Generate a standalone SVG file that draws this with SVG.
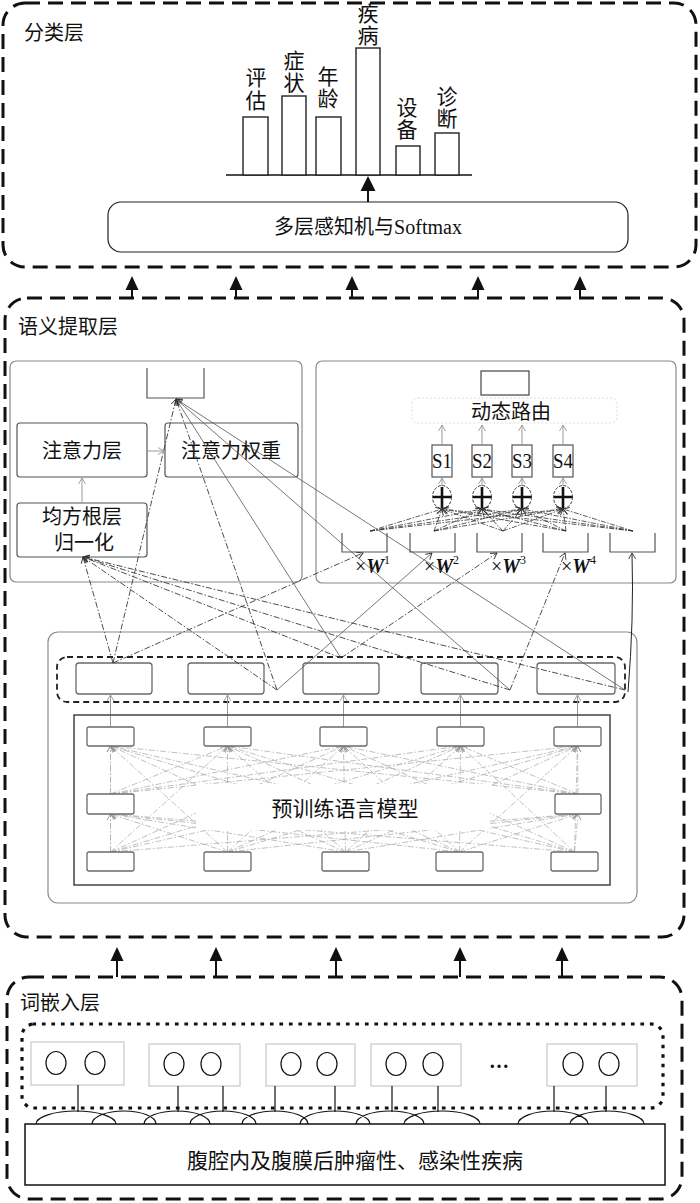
<svg xmlns="http://www.w3.org/2000/svg" width="700" height="1203" viewBox="0 0 700 1203">
<defs>
<marker id="ah" markerUnits="userSpaceOnUse" markerWidth="9" markerHeight="9" refX="7" refY="4.5" orient="auto"><path d="M1,1 L7,4.5 L1,8" fill="none" stroke="#333" stroke-width="0.9"/></marker>
<marker id="ahl" markerUnits="userSpaceOnUse" markerWidth="9" markerHeight="9" refX="7" refY="4.5" orient="auto"><path d="M1,1 L7,4.5 L1,8" fill="none" stroke="#999" stroke-width="0.9"/></marker>
</defs>
<style>
.layer{fill:none;stroke:#111;stroke-width:3;stroke-dasharray:15 8}
.t{font-family:"Liberation Serif","Noto Sans CJK SC",serif;fill:#111}
.cn{font-size:20px}
.mid{text-anchor:middle}
.bar{fill:#fff;stroke:#222;stroke-width:1.4}
.panel{fill:none;stroke:#8a8a8a;stroke-width:1.2}
.box{fill:#fff;stroke:#555;stroke-width:1.2}
.gbox{fill:#fff;stroke:#6a6a6a;stroke-width:1.3}
.obox{fill:none;stroke:#555;stroke-width:1.2}
.arr{fill:#111}
.shaft{stroke:#111;stroke-width:2}
.cl{fill:none;stroke:#3a3a3a;stroke-width:0.9;stroke-dasharray:6 2 1.5 2;marker-end:url(#ah)}
.cs{fill:none;stroke:#555;stroke-width:0.8;marker-end:url(#ah)}
.pl{fill:none;stroke:#b0b0b0;stroke-width:0.8;stroke-dasharray:6 2 1.5 2;marker-end:url(#ahl)}
.ga{fill:none;stroke:#999;stroke-width:1;marker-end:url(#ahl)}
.fan{fill:none;stroke:#333;stroke-width:0.8;stroke-dasharray:5 1.5 1.5 1.5;marker-end:url(#ah)}
.tok{fill:#fff;stroke:#c8c8c8;stroke-width:1.2}
.circ{fill:none;stroke:#111;stroke-width:1.2}
.thin{stroke:#111;stroke-width:1.2;fill:none}
.wl{font-size:20px}
.sl{font-size:21px}
</style>
<rect width="700" height="1203" fill="#fff"/>

<!-- Classification layer -->
<g id="classification-layer">
<rect class="layer" x="3" y="3" width="693" height="264" rx="22"/>
<text class="t cn" x="24" y="40">分类层</text>
</g>
<g id="bar-chart">
<line x1="226" y1="175" x2="472" y2="175" stroke="#111" stroke-width="1.6"/>
<rect class="bar" x="243" y="117" width="25" height="58"/>
<rect class="bar" x="282" y="96" width="24" height="79"/>
<rect class="bar" x="316" y="117" width="25" height="58"/>
<rect class="bar" x="356" y="48" width="24" height="127"/>
<rect class="bar" x="396" y="146" width="24" height="29"/>
<rect class="bar" x="435" y="133" width="24" height="42"/>
<g class="t mid" font-size="21">
<text x="256" y="85">评</text><text x="256" y="108">估</text>
<text x="294" y="68">症</text><text x="294" y="90">状</text>
<text x="328" y="84">年</text><text x="328" y="106">龄</text>
<text x="368" y="21">疾</text><text x="368" y="43">病</text>
<text x="407" y="115">设</text><text x="407" y="137">备</text>
<text x="447" y="104">诊</text><text x="447" y="126">断</text>
</g>
</g>
<g id="mlp-softmax">
<rect x="108" y="202" width="520" height="50" rx="13" fill="#fff" stroke="#222" stroke-width="1.2"/>
<text class="t cn mid" x="368" y="234">多层感知机与Softmax</text>
<line class="shaft" x1="368" y1="202" x2="368" y2="189"/>
<polygon class="arr" points="368,176 360.5,191 375.5,191"/>
</g>

<!-- Arrows semantic -> classification -->
<g id="layer-arrows-top">
<line class="shaft" x1="132" y1="298" x2="132" y2="289"/><polygon class="arr" points="132,276 125.5,290 138.5,290"/>
<line class="shaft" x1="236" y1="298" x2="236" y2="289"/><polygon class="arr" points="236,276 229.5,290 242.5,290"/>
<line class="shaft" x1="352" y1="298" x2="352" y2="289"/><polygon class="arr" points="352,276 345.5,290 358.5,290"/>
<line class="shaft" x1="478" y1="298" x2="478" y2="289"/><polygon class="arr" points="478,276 471.5,290 484.5,290"/>
<line class="shaft" x1="580" y1="298" x2="580" y2="289"/><polygon class="arr" points="580,276 573.5,290 586.5,290"/>
</g>

<!-- Semantic extraction layer -->
<g id="semantic-layer">
<rect class="layer" x="5" y="298" width="679" height="639" rx="22"/>
<text class="t cn" x="18" y="334">语义提取层</text>
</g>

<g id="attention-panel">
<rect class="panel" x="10" y="361" width="292" height="221" rx="6"/>
<path class="obox" d="M147,368 V398 H204 V368"/>
<rect class="box" x="17" y="423" width="130" height="54" rx="3"/>
<text class="t cn mid" x="82" y="458">注意力层</text>
<rect class="box" x="165" y="423" width="133" height="54" rx="3"/>
<text class="t cn mid" x="231" y="458">注意力权重</text>
<rect class="box" x="17" y="503" width="130" height="54" rx="3"/>
<text class="t cn mid" x="82" y="524">均方根层</text>
<text class="t cn mid" x="84" y="550">归一化</text>
<line class="ga" x1="147" y1="451" x2="164" y2="451"/>
<line class="ga" x1="82" y1="503" x2="82" y2="478"/>
</g>

<g id="routing-panel">
<rect class="panel" x="316" y="361" width="360" height="222" rx="6"/>
<rect x="481" y="371" width="48" height="24" fill="#fff" stroke="#444" stroke-width="1.2"/>
<rect x="412" y="398" width="205" height="25" rx="6" fill="none" stroke="#ddd" stroke-width="1" stroke-dasharray="2 2"/>
<text class="t cn mid" x="511" y="419">动态路由</text>
<g id="s-units">
<rect class="box" x="432" y="445" width="20" height="32"/><text class="t mid sl" x="442" y="468" textLength="20" lengthAdjust="spacingAndGlyphs">S1</text>
<rect class="box" x="472" y="445" width="20" height="32"/><text class="t mid sl" x="482" y="468" textLength="20" lengthAdjust="spacingAndGlyphs">S2</text>
<rect class="box" x="512" y="445" width="20" height="32"/><text class="t mid sl" x="522" y="468" textLength="20" lengthAdjust="spacingAndGlyphs">S3</text>
<rect class="box" x="553" y="445" width="20" height="32"/><text class="t mid sl" x="563" y="468" textLength="20" lengthAdjust="spacingAndGlyphs">S4</text>
<line class="ga" x1="442" y1="445" x2="442" y2="425"/>
<line class="ga" x1="482" y1="445" x2="482" y2="425"/>
<line class="ga" x1="522" y1="445" x2="522" y2="425"/>
<line class="ga" x1="563" y1="445" x2="563" y2="425"/>
</g>
<g id="sum-nodes">
<ellipse cx="442" cy="497" rx="9.5" ry="11.5" fill="#fff" stroke="#333" stroke-width="1" stroke-dasharray="3 1.5"/>
<ellipse cx="482" cy="497" rx="9.5" ry="11.5" fill="#fff" stroke="#333" stroke-width="1" stroke-dasharray="3 1.5"/>
<ellipse cx="522" cy="497" rx="9.5" ry="11.5" fill="#fff" stroke="#333" stroke-width="1" stroke-dasharray="3 1.5"/>
<ellipse cx="563" cy="497" rx="9.5" ry="11.5" fill="#fff" stroke="#333" stroke-width="1" stroke-dasharray="3 1.5"/>
<path d="M433,497 H451 M442,487 V508 M473,497 H491 M482,487 V508 M513,497 H531 M522,487 V508 M554,497 H572 M563,487 V508" stroke="#111" stroke-width="2.6"/>
<line class="ga" x1="442" y1="486" x2="442" y2="478"/>
<line class="ga" x1="482" y1="486" x2="482" y2="478"/>
<line class="ga" x1="522" y1="486" x2="522" y2="478"/>
<line class="ga" x1="563" y1="486" x2="563" y2="478"/>
</g>
<g id="w-boxes">
<path class="obox" d="M342,533 V552 H387 V533"/>
<path class="obox" d="M410,533 V552 H455 V533"/>
<path class="obox" d="M477,533 V552 H522 V533"/>
<path class="obox" d="M543,533 V552 H588 V533"/>
<path class="obox" d="M610,533 V552 H655 V533"/>
<text class="t wl" x="355" y="573">×<tspan font-weight="bold" font-style="italic">W</tspan><tspan font-size="12" dy="-9">1</tspan></text>
<text class="t wl" x="424" y="573">×<tspan font-weight="bold" font-style="italic">W</tspan><tspan font-size="12" dy="-9">2</tspan></text>
<text class="t wl" x="491" y="573">×<tspan font-weight="bold" font-style="italic">W</tspan><tspan font-size="12" dy="-9">3</tspan></text>
<text class="t wl" x="561" y="573">×<tspan font-weight="bold" font-style="italic">W</tspan><tspan font-size="12" dy="-9">4</tspan></text>
</g>
<g id="routing-fan">
<line class="fan" x1="370" y1="531" x2="442" y2="509"/><line class="fan" x1="370" y1="531" x2="482" y2="509"/><line class="fan" x1="370" y1="531" x2="522" y2="509"/><line class="fan" x1="370" y1="531" x2="563" y2="509"/>
<line class="fan" x1="434" y1="531" x2="442" y2="509"/><line class="fan" x1="434" y1="531" x2="482" y2="509"/><line class="fan" x1="434" y1="531" x2="522" y2="509"/><line class="fan" x1="434" y1="531" x2="563" y2="509"/>
<line class="fan" x1="503" y1="531" x2="442" y2="509"/><line class="fan" x1="503" y1="531" x2="482" y2="509"/><line class="fan" x1="503" y1="531" x2="522" y2="509"/><line class="fan" x1="503" y1="531" x2="563" y2="509"/>
<line class="fan" x1="566" y1="531" x2="442" y2="509"/><line class="fan" x1="566" y1="531" x2="482" y2="509"/><line class="fan" x1="566" y1="531" x2="522" y2="509"/><line class="fan" x1="566" y1="531" x2="563" y2="509"/>
<line class="fan" x1="633" y1="531" x2="442" y2="509"/><line class="fan" x1="633" y1="531" x2="482" y2="509"/><line class="fan" x1="633" y1="531" x2="522" y2="509"/><line class="fan" x1="633" y1="531" x2="563" y2="509"/>
</g>
</g>

<g id="encoder-panel">
<rect class="panel" x="48" y="632" width="589" height="271" rx="10"/>
<rect x="57" y="657" width="568" height="45" rx="10" fill="none" stroke="#222" stroke-width="1.8" stroke-dasharray="6 4"/>
<rect class="gbox" x="76" y="663" width="76" height="31" rx="3"/>
<rect class="gbox" x="188" y="663" width="76" height="31" rx="3"/>
<rect class="gbox" x="303" y="663" width="76" height="31" rx="3"/>
<rect class="gbox" x="421" y="663" width="77" height="31" rx="3"/>
<rect class="gbox" x="537" y="663" width="78" height="31" rx="3"/>
<line class="ga" x1="110.5" y1="727" x2="110.5" y2="695"/>
<line class="ga" x1="227.5" y1="727" x2="227.5" y2="695"/>
<line class="ga" x1="343.5" y1="727" x2="343.5" y2="695"/>
<line class="ga" x1="460.5" y1="727" x2="460.5" y2="695"/>
<line class="ga" x1="577.5" y1="727" x2="577.5" y2="695"/>
</g>

<g id="pretrained-model">
<rect x="74" y="715" width="536" height="170" fill="none" stroke="#444" stroke-width="1.5"/>
<g id="pretrained-links">
<line class="pl" x1="110.5" y1="852" x2="110.5" y2="746"/><line class="pl" x1="110.5" y1="852" x2="227.5" y2="746"/><line class="pl" x1="110.5" y1="852" x2="343.5" y2="746"/><line class="pl" x1="110.5" y1="852" x2="460.5" y2="746"/><line class="pl" x1="110.5" y1="852" x2="577.5" y2="746"/>
<line class="pl" x1="227.5" y1="852" x2="110.5" y2="746"/><line class="pl" x1="227.5" y1="852" x2="227.5" y2="746"/><line class="pl" x1="227.5" y1="852" x2="343.5" y2="746"/><line class="pl" x1="227.5" y1="852" x2="460.5" y2="746"/><line class="pl" x1="227.5" y1="852" x2="577.5" y2="746"/>
<line class="pl" x1="345.5" y1="852" x2="110.5" y2="746"/><line class="pl" x1="345.5" y1="852" x2="227.5" y2="746"/><line class="pl" x1="345.5" y1="852" x2="343.5" y2="746"/><line class="pl" x1="345.5" y1="852" x2="460.5" y2="746"/><line class="pl" x1="345.5" y1="852" x2="577.5" y2="746"/>
<line class="pl" x1="459.5" y1="852" x2="110.5" y2="746"/><line class="pl" x1="459.5" y1="852" x2="227.5" y2="746"/><line class="pl" x1="459.5" y1="852" x2="343.5" y2="746"/><line class="pl" x1="459.5" y1="852" x2="460.5" y2="746"/><line class="pl" x1="459.5" y1="852" x2="577.5" y2="746"/>
<line class="pl" x1="574.5" y1="852" x2="110.5" y2="746"/><line class="pl" x1="574.5" y1="852" x2="227.5" y2="746"/><line class="pl" x1="574.5" y1="852" x2="343.5" y2="746"/><line class="pl" x1="574.5" y1="852" x2="460.5" y2="746"/><line class="pl" x1="574.5" y1="852" x2="577.5" y2="746"/>
<line class="pl" x1="110.5" y1="852" x2="110.5" y2="814"/><line class="pl" x1="227.5" y1="852" x2="110.5" y2="814"/><line class="pl" x1="345.5" y1="852" x2="110.5" y2="814"/><line class="pl" x1="459.5" y1="852" x2="110.5" y2="814"/><line class="pl" x1="574.5" y1="852" x2="110.5" y2="814"/>
<line class="pl" x1="110.5" y1="852" x2="578" y2="814"/><line class="pl" x1="227.5" y1="852" x2="578" y2="814"/><line class="pl" x1="345.5" y1="852" x2="578" y2="814"/><line class="pl" x1="459.5" y1="852" x2="578" y2="814"/><line class="pl" x1="574.5" y1="852" x2="578" y2="814"/>
<line class="pl" x1="110.5" y1="794" x2="110.5" y2="746"/><line class="pl" x1="110.5" y1="794" x2="227.5" y2="746"/><line class="pl" x1="110.5" y1="794" x2="343.5" y2="746"/><line class="pl" x1="110.5" y1="794" x2="460.5" y2="746"/><line class="pl" x1="110.5" y1="794" x2="577.5" y2="746"/>
<line class="pl" x1="578" y1="794" x2="110.5" y2="746"/><line class="pl" x1="578" y1="794" x2="227.5" y2="746"/><line class="pl" x1="578" y1="794" x2="343.5" y2="746"/><line class="pl" x1="578" y1="794" x2="460.5" y2="746"/><line class="pl" x1="578" y1="794" x2="577.5" y2="746"/>
</g>
<rect x="196" y="784" width="294" height="46" fill="#fff"/>
<text class="t mid" x="345" y="816" font-size="21">预训练语言模型</text>
<g id="pretrained-units">
<rect class="gbox" x="87" y="727" width="47" height="19" rx="2"/><rect class="gbox" x="204" y="727" width="47" height="19" rx="2"/><rect class="gbox" x="320" y="727" width="47" height="19" rx="2"/><rect class="gbox" x="437" y="727" width="47" height="19" rx="2"/><rect class="gbox" x="554" y="727" width="47" height="19" rx="2"/>
<rect class="gbox" x="87" y="794" width="47" height="20" rx="2"/><rect class="gbox" x="555" y="794" width="46" height="20" rx="2"/>
<rect class="gbox" x="87" y="852" width="47" height="19" rx="2"/><rect class="gbox" x="204" y="852" width="47" height="19" rx="2"/><rect class="gbox" x="322" y="852" width="47" height="19" rx="2"/><rect class="gbox" x="436" y="852" width="47" height="19" rx="2"/><rect class="gbox" x="551" y="852" width="47" height="19" rx="2"/>
</g>
</g>

<!-- Connectors between encoder outputs and attention / routing -->
<g id="connectors">
<line class="cl" x1="113" y1="663" x2="83" y2="557"/>
<line class="cl" x1="113" y1="663" x2="176" y2="399"/>
<line class="cl" x1="113" y1="663" x2="363" y2="553"/>
<line class="cl" x1="277" y1="690" x2="83" y2="557"/>
<line class="cl" x1="277" y1="690" x2="176" y2="399"/>
<line class="cs" x1="277" y1="690" x2="432" y2="553"/>
<line class="cl" x1="341" y1="658" x2="83" y2="557"/>
<line class="cs" x1="341" y1="658" x2="176" y2="399"/>
<line class="cl" x1="341" y1="658" x2="497" y2="553"/>
<line class="cl" x1="510" y1="690" x2="83" y2="557"/>
<line class="cs" x1="510" y1="690" x2="176" y2="399"/>
<line class="cl" x1="510" y1="690" x2="565" y2="553"/>
<line class="cl" x1="625" y1="690" x2="83" y2="557"/>
<line class="cs" x1="625" y1="690" x2="176" y2="399"/>
<path d="M628,692 Q634,620 632,553" fill="none" stroke="#222" stroke-width="1" marker-end="url(#ah)"/>
</g>

<!-- Arrows embedding -> semantic -->
<g id="layer-arrows-bottom">
<line class="shaft" x1="117" y1="977" x2="117" y2="960"/><polygon class="arr" points="117,947 110.5,961 123.5,961"/>
<line class="shaft" x1="216" y1="977" x2="216" y2="960"/><polygon class="arr" points="216,947 209.5,961 222.5,961"/>
<line class="shaft" x1="336" y1="977" x2="336" y2="960"/><polygon class="arr" points="336,947 329.5,961 342.5,961"/>
<line class="shaft" x1="460" y1="977" x2="460" y2="960"/><polygon class="arr" points="460,947 453.5,961 466.5,961"/>
<line class="shaft" x1="562" y1="977" x2="562" y2="960"/><polygon class="arr" points="562,947 555.5,961 568.5,961"/>
</g>

<!-- Word embedding layer -->
<g id="embedding-layer">
<rect class="layer" x="7" y="977" width="675" height="222" rx="22"/>
<text class="t cn" x="20" y="1010">词嵌入层</text>
<rect x="22" y="1024" width="641" height="84" rx="12" fill="none" stroke="#111" stroke-width="3.2" stroke-linecap="square" stroke-dasharray="0.5 9"/>
</g>
<g id="token-vectors">
<rect class="tok" x="31" y="1042" width="93" height="43"/>
<ellipse class="circ" cx="56" cy="1063" rx="10" ry="11.5"/><ellipse class="circ" cx="95" cy="1063" rx="10" ry="11.5"/>
<rect class="tok" x="149" y="1044" width="91" height="42"/>
<ellipse class="circ" cx="174" cy="1064" rx="10" ry="11.5"/><ellipse class="circ" cx="211" cy="1064" rx="10" ry="11.5"/>
<rect class="tok" x="266" y="1044" width="89" height="42"/>
<ellipse class="circ" cx="291" cy="1064" rx="10" ry="11.5"/><ellipse class="circ" cx="327" cy="1064" rx="10" ry="11.5"/>
<rect class="tok" x="371" y="1044" width="90" height="42"/>
<ellipse class="circ" cx="396" cy="1064" rx="10" ry="11.5"/><ellipse class="circ" cx="433" cy="1064" rx="10" ry="11.5"/>
<text class="t mid" x="499" y="1068" font-size="20" font-weight="bold">…</text>
<rect class="tok" x="547" y="1044" width="90" height="42"/>
<ellipse class="circ" cx="573" cy="1064" rx="10" ry="11.5"/><ellipse class="circ" cx="609" cy="1064" rx="10" ry="11.5"/>
</g>
<g id="token-links">
<path class="thin" d="M78,1085 V1112 M178,1086 V1112 M223,1086 V1112 M275,1086 V1112 M335,1086 V1112 M392,1086 V1112 M438,1086 V1112 M554,1086 V1112 M606,1086 V1112"/>
<path class="thin" stroke-width="1" d="M36,1124 A40,13 0 0 1 116,1124 M92,1124 A32,13 0 0 1 156,1124 M144,1124 A33,13 0 0 1 210,1124 M190,1124 A33,13 0 0 1 256,1124 M242,1124 A33,13 0 0 1 308,1124 M300,1124 A35,13 0 0 1 370,1124 M356,1124 A34,13 0 0 1 424,1124 M404,1124 A38,13 0 0 1 480,1124 M518,1124 A35,13 0 0 1 588,1124 M570,1124 A37,13 0 0 1 644,1124"/>
</g>
<g id="sentence">
<rect x="25" y="1124" width="640" height="61" fill="#fff" stroke="#111" stroke-width="1.5"/>
<text class="t mid" x="355" y="1168" font-size="21">腹腔内及腹膜后肿瘤性、感染性疾病</text>
</g>
</svg>
